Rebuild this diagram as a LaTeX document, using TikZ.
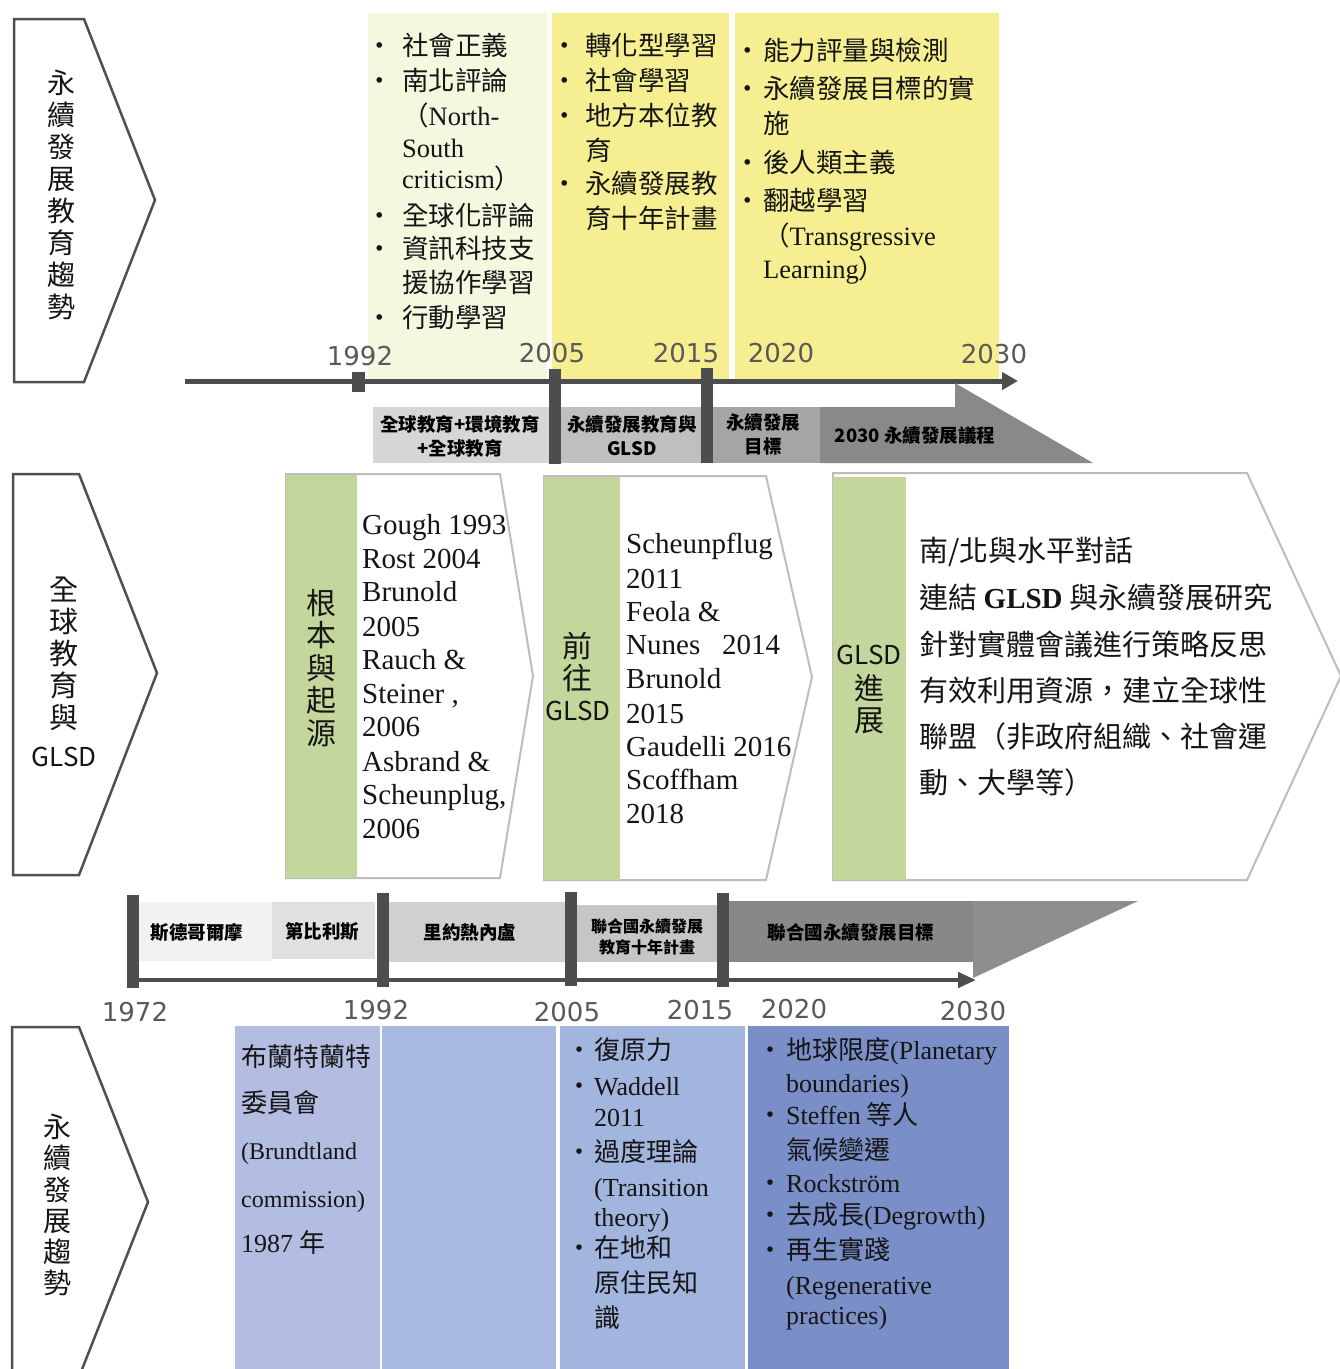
\documentclass[tikz,border=0pt]{standalone}
\usepackage{fontspec}
\setmainfont{Liberation Serif}
\newfontfamily\cjk{Noto Sans CJK TC}
\newfontfamily\yrf{DejaVu Sans}
\usetikzlibrary{arrows.meta}
\definecolor{chevc}{HTML}{505050}
\definecolor{arrc}{HTML}{BDBDBD}
\definecolor{greenc}{HTML}{C3D69B}
\definecolor{paleA}{HTML}{F5F7DF}
\definecolor{yelB}{HTML}{F5EF92}
\definecolor{axc}{HTML}{4D4D50}
\definecolor{yearc}{HTML}{595959}
\definecolor{tb1}{HTML}{D6D6D8}
\definecolor{tb2}{HTML}{BFBFC2}
\definecolor{tb3}{HTML}{A5A5A8}
\definecolor{tb4}{HTML}{89898C}
\definecolor{bb1}{HTML}{F2F2F2}
\definecolor{bb2}{HTML}{DFE0E2}
\definecolor{bb3}{HTML}{D0D0D2}
\definecolor{bb4}{HTML}{C6C6C8}
\definecolor{bb5}{HTML}{88888B}
\definecolor{bb6}{HTML}{8E8E91}
\definecolor{bl1}{HTML}{B3BCE1}
\definecolor{bl2}{HTML}{A7B8E1}
\definecolor{bl3}{HTML}{A2B5DE}
\definecolor{bl4}{HTML}{7A8FC7}
\definecolor{txc}{HTML}{151515}
\newcommand\bul[1]{\llap{\makebox[#1][c]{\cjk ・}}}
\begin{document}
\begin{tikzpicture}[x=1pt,y=-1pt,
  chev/.style={draw=chevc,line width=2.5pt,fill=white,line join=miter},
  garrow/.style={draw=arrc,line width=2pt,fill=white},
  vt/.style={align=center,inner sep=0pt,text=txc},
  yr/.style={font=\yrf\fontsize{26}{26}\selectfont,text=yearc,inner sep=0pt},
  lnA/.style={anchor=west,inner sep=0pt,text=txc,font=\cjk\fontsize{26.5}{26.5}\selectfont,text height=22pt,text depth=2pt},
  lnM/.style={anchor=west,inner sep=0pt,text=txc,font=\fontsize{29}{29}\selectfont,text height=24pt,text depth=2pt},
  lnG/.style={anchor=west,inner sep=0pt,text=txc,font=\cjk\fontsize{29}{29}\selectfont,text height=24pt,text depth=2pt},
  lnS/.style={anchor=west,inner sep=0pt,text=txc,font=\fontsize{24}{24}\selectfont,text height=20pt,text depth=2pt},
  lnB/.style={anchor=west,inner sep=0pt,text=txc,font=\cjk\fontsize{26}{26}\selectfont,text height=21.6pt,text depth=2pt},
  band/.style={align=center,inner sep=0pt,text=black,font=\cjk\bfseries\fontsize{18.5}{24}\selectfont},
  bandS/.style={align=center,inner sep=0pt,text=black,font=\cjk\bfseries\fontsize{16}{21}\selectfont},
  tick/.style={fill=axc,draw=none},
  axis/.style={draw=axc,line width=5pt,-{Triangle[length=16pt,width=17pt]}}
]
\useasboundingbox (0,0) rectangle (1340,1369);
\fill[white] (0,0) rectangle (1340,1369);

% ================= TOP SECTION =================
\draw[chev] (14,19) -- (84,19) -- (155,200) -- (84,382) -- (14,382) -- cycle;
\node[vt,font=\cjk\fontsize{28}{32}\selectfont] (ch1t) at (61,195) {永\\續\\發\\展\\教\\育\\趨\\勢};

\fill[paleA] (368,13) rectangle (547,380);
\fill[yelB] (552,13) rectangle (729,380);
\fill[yelB] (735,13) rectangle (999,380);

% block A
\node[lnA] (a1) at (402,45) {\bul{44pt}社會正義};
\node[lnA] (a2) at (402,80) {\bul{44pt}南北評論};
\node[lnA] (a3) at (402,115) {（{\rmfamily North-}};
\node[lnA] (a4) at (402,147) {\rmfamily South};
\node[lnA] (a5) at (402,178) {{\rmfamily criticism}）};
\node[lnA] (a6) at (402,215) {\bul{44pt}全球化評論};
\node[lnA] (a7) at (402,248) {\bul{44pt}資訊科技支};
\node[lnA] (a8) at (402,282) {援協作學習};
\node[lnA] (a9) at (402,317) {\bul{44pt}行動學習};
% block B
\node[lnA] (b1) at (585,45) {\bul{40pt}轉化型學習};
\node[lnA] (b2) at (585,80) {\bul{40pt}社會學習};
\node[lnA] (b3) at (585,115) {\bul{40pt}地方本位教};
\node[lnA] (b4) at (585,150) {育};
\node[lnA] (b5) at (585,183) {\bul{40pt}永續發展教};
\node[lnA] (b6) at (585,218) {育十年計畫};
% block C
\node[lnA] (c1) at (763,50) {\bul{30pt}能力評量與檢測};
\node[lnA] (c2) at (763,88) {\bul{30pt}永續發展目標的實};
\node[lnA] (c3) at (763,123) {施};
\node[lnA] (c4) at (763,162) {\bul{30pt}後人類主義};
\node[lnA] (c5) at (763,200) {\bul{30pt}翻越學習};
\node[lnA] (c6) at (763,235) {（{\rmfamily Transgressive}};
\node[lnA] (c7) at (763,268) {{\rmfamily Learning}）};

% top axis
\coordinate (tax0) at (185,381);
\coordinate (tax1) at (1018,381);
\draw[axis] (tax0) -- (tax1);

% top band
\fill[tb1] (373,407) rectangle (549,463);
\fill[tb2] (561,407) rectangle (702,463);
\fill[tb3] (713,407) rectangle (820,463);
\fill[tb4] (820,407) -- (955,407) -- (955,383) -- (1093,463) -- (820,463) -- cycle;
\fill[tick] (352,372) rectangle (365,392);
\fill[tick] (549,369) rectangle (561,464);
\fill[tick] (701,368) rectangle (713,463);
\node[band] (tb1t) at (460,436) {全球教育+環境教育\\+全球教育};
\node[band] (tb2t) at (632,436) {永續發展教育與\\GLSD};
\node[band] (tb3t) at (763,434) {永續發展\\目標};
\node[band] (tb4t) at (915,436) {2030 永續發展議程};

% top years
\node[yr] (ty1) at (360,356) {1992};
\node[yr] (ty2) at (552,353) {2005};
\node[yr] (ty3) at (686,353) {2015};
\node[yr] (ty4) at (781,353) {2020};
\node[yr] (ty5) at (994,354) {2030};

% ================= MIDDLE SECTION =================
\draw[chev] (13,474) -- (79,474) -- (157,673) -- (79,875) -- (13,875) -- cycle;
\node[vt,font=\cjk\fontsize{29}{32}\selectfont] (ch2t) at (64,654) {全\\球\\教\\育\\與};
\node[vt,font=\cjk\fontsize{26}{26}\selectfont] (ch2g) at (64,757) {GLSD};

% arrow 1
\draw[garrow] (286,474) -- (500,474) -- (533,676) -- (500,878) -- (286,878) -- cycle;
\fill[greenc] (286,475) rectangle (357,878);
\node[vt,font=\cjk\fontsize{30}{32.5}\selectfont] (g1t) at (321,668) {根\\本\\與\\起\\源};
\node[lnM] (m1) at (362,523) {Gough 1993};
\node[lnM] (m2) at (362,557) {Rost 2004};
\node[lnM] (m3) at (362,590) {Brunold};
\node[lnM] (m4) at (362,625) {2005};
\node[lnM] (m5) at (362,658) {Rauch \&};
\node[lnM] (m6) at (362,692) {Steiner ,};
\node[lnM] (m7) at (362,725) {2006};
\node[lnM] (m8) at (362,760) {Asbrand \&};
\node[lnM] (m9) at (362,793) {Scheunplug,};
\node[lnM] (m10) at (362,827) {2006};

% arrow 2
\draw[garrow] (544,476) -- (766,476) -- (812,677) -- (766,880) -- (544,880) -- cycle;
\fill[greenc] (544,477) rectangle (620,880);
\node[vt,font=\cjk\fontsize{30}{31.5}\selectfont] (g2t) at (577,662) {前\\往};
\node[vt,font=\cjk\fontsize{26}{26}\selectfont] (g2g) at (578,711) {GLSD};
\node[lnM] (n1) at (626,542) {Scheunpflug};
\node[lnM] (n2) at (626,577) {2011};
\node[lnM] (n3) at (626,610) {Feola \&};
\node[lnM] (n4) at (626,643) {Nunes\ \ \ 2014};
\node[lnM] (n5) at (626,677) {Brunold};
\node[lnM] (n6) at (626,712) {2015};
\node[lnM] (n7) at (626,745) {Gaudelli 2016};
\node[lnM] (n8) at (626,778) {Scoffham};
\node[lnM] (n9) at (626,812) {2018};

% arrow 3
\draw[garrow] (833,473) -- (1247,473) -- (1341,676) -- (1247,880) -- (833,880) -- cycle;
\fill[greenc] (833,477) rectangle (906,880);
\node[vt,font=\cjk\fontsize{26}{26}\selectfont] (g3g) at (869,655) {GLSD};
\node[vt,font=\cjk\fontsize{30}{32}\selectfont] (g3t) at (869,704) {進\\展};
\node[lnG] (p1) at (919,550) {南/北與水平對話};
\node[lnG] (p2) at (919,597) {連結 {\rmfamily\bfseries GLSD} 與永續發展研究};
\node[lnG] (p3) at (919,644) {針對實體會議進行策略反思};
\node[lnG] (p4) at (919,690) {有效利用資源，建立全球性};
\node[lnG] (p5) at (919,736) {聯盟（非政府組織、社會運};
\node[lnG] (p6) at (919,782) {動、大學等）};

% ================= BOTTOM BAND =================
\fill[bb1] (139,902) rectangle (272,961);
\fill[bb2] (272,902) rectangle (375,959);
\fill[bb3] (389,902) rectangle (565,962);
\fill[bb4] (577,905) rectangle (717,962);
\fill[bb5] (729,901) rectangle (974,962);
\fill[bb6] (973,901) -- (1138,901) -- (973,978) -- cycle;
\coordinate (bax0) at (133,980);
\coordinate (bax1) at (976,980);
\draw[draw=axc,line width=4.5pt,-{Triangle[length=18pt,width=15pt]}] (bax0) -- (bax1);
\fill[tick] (127,895) rectangle (139,988);
\fill[tick] (377,893) rectangle (389,987);
\fill[tick] (565,892) rectangle (577,986);
\fill[tick] (717,893) rectangle (729,987);
\node[band] (bt1) at (197,933) {斯德哥爾摩};
\node[band] (bt2) at (322,932) {第比利斯};
\node[band] (bt3) at (470,932) {里約熱內盧};
\node[bandS] (bt4) at (647,937) {聯合國永續發展\\教育十年計畫};
\node[band] (bt5) at (851,932) {聯合國永續發展目標};

\node[yr] (by1) at (135,1012) {1972};
\node[yr] (by2) at (376,1010) {1992};
\node[yr] (by3) at (567,1012) {2005};
\node[yr] (by4) at (700,1010) {2015};
\node[yr] (by5) at (794,1009) {2020};
\node[yr] (by6) at (973,1011) {2030};

% ================= BOTTOM SECTION =================
\draw[chev] (12,1027) -- (79,1027) -- (148,1202) -- (79,1377) -- (12,1377) -- cycle;
\node[vt,font=\cjk\fontsize{28}{31.2}\selectfont] (ch3t) at (57,1205) {永\\續\\發\\展\\趨\\勢};

\fill[bl1] (235,1026) rectangle (380,1369);
\fill[bl2] (382,1026) rectangle (556,1369);
\fill[bl3] (560,1026) rectangle (745,1369);
\fill[bl4] (748,1026) rectangle (1009,1369);

\node[lnB] (q1) at (241,1057) {布蘭特蘭特};
\node[lnB] (q2) at (241,1103) {委員會};
\node[lnS] (q3) at (241,1150) {(Brundtland};
\node[lnS] (q4) at (241,1198) {commission)};
\node[lnB] (q5) at (241,1243) {{\rmfamily 1987} 年};

\node[lnB] (r1) at (594,1050) {\bul{30pt}復原力};
\node[lnB] (r2) at (594,1086) {\bul{30pt}{\rmfamily Waddell}};
\node[lnB] (r3) at (594,1117) {\rmfamily 2011};
\node[lnB] (r4) at (594,1152) {\bul{30pt}過度理論};
\node[lnB] (r5) at (594,1187) {\rmfamily (Transition};
\node[lnB] (r6) at (594,1217) {\rmfamily theory)};
\node[lnB] (r7) at (594,1248) {\bul{30pt}在地和};
\node[lnB] (r8) at (594,1283) {原住民知};
\node[lnB] (r9) at (594,1318) {識};

\node[lnB] (s1) at (786,1050) {\bul{32pt}地球限度{\rmfamily (Planetary}};
\node[lnB] (s2) at (786,1083) {\rmfamily boundaries)};
\node[lnB] (s3) at (786,1115) {\bul{32pt}{\rmfamily Steffen} 等人};
\node[lnB] (s4) at (786,1150) {氣候變遷};
\node[lnB] (s5) at (786,1183) {\bul{32pt}{\rmfamily Rockström}};
\node[lnB] (s6) at (786,1215) {\bul{32pt}去成長{\rmfamily (Degrowth)}};
\node[lnB] (s7) at (786,1250) {\bul{32pt}再生實踐};
\node[lnB] (s8) at (786,1285) {\rmfamily (Regenerative};
\node[lnB] (s9) at (786,1315) {\rmfamily practices)};
\end{tikzpicture}
\end{document}
